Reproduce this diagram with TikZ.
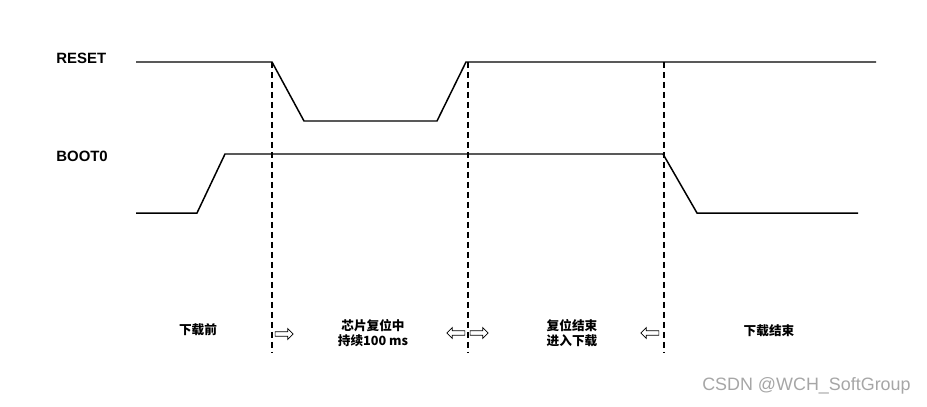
\documentclass[tikz,border=0pt]{standalone}
\usepackage{fontspec}
\setmainfont{Liberation Sans}
\newfontfamily\cjk{Noto Sans CJK SC}
\usetikzlibrary{shapes.arrows}

\begin{document}
\begin{tikzpicture}[
  x=0.02cm, y=-0.02cm,
  signal/.style={line width=0.85pt, line join=miter},
  marker/.style={line width=0.7pt, dash pattern=on 0.12cm off 0.08cm},
  signame/.style={anchor=west, inner sep=0pt, font=\fontsize{8.5}{10}\selectfont\bfseries},
  phase/.style={align=center, inner sep=0pt, font=\fontsize{7.2}{8.8}\selectfont\cjk\bfseries},
  hollowright/.style={
    single arrow,
    draw,
    line width=0.4pt,
    inner sep=1.1pt,
    minimum height=0.36cm,
    single arrow head extend=1.8pt,
    single arrow head indent=0pt
  },
  hollowleft/.style={hollowright, shape border rotate=180},
  watermark/.style={anchor=east, inner sep=0pt, text=gray!70, font=\fontsize{10.2}{12}\selectfont}
]
\useasboundingbox (0,0) rectangle (927,406);

\node[signame] (reset) at (56,58) {RESET};
\node[signame] (boot) at (56,156) {BOOT0};

\draw[signal] (136,62) -- (272,62) -- (304,121) -- (437,121) -- (466,62) -- (876,62);
\draw[signal] (136,213) -- (197,213) -- (225,154) -- (663,154) -- (697,213) -- (858,213);

\coordinate (t1top) at (272,62);
\coordinate (t1bot) at (272,352);
\coordinate (t2top) at (468,62);
\coordinate (t2bot) at (468,352);
\coordinate (t3top) at (664,62);
\coordinate (t3bot) at (664,352);
\draw[marker] (t1top) -- (t1bot);
\draw[marker] (t2top) -- (t2bot);
\draw[marker] (t3top) -- (t3bot);

\node[phase] (before) at (198,330) {下载前};
\node[phase] (resetting) at (373,333) {芯片复位中\\持续100 ms};
\node[phase] (entering) at (572,333) {复位结束\\进入下载};
\node[phase] (after) at (769,331) {下载结束};

\node[hollowright] (a1) at (283,334) {};
\node[hollowleft] (a2) at (457,333) {};
\node[hollowright] (a3) at (478,333) {};
\node[hollowleft] (a4) at (651,333) {};

\node[watermark] (credit) at (911,386) {CSDN @WCH\_SoftGroup};
\end{tikzpicture}
\end{document}
